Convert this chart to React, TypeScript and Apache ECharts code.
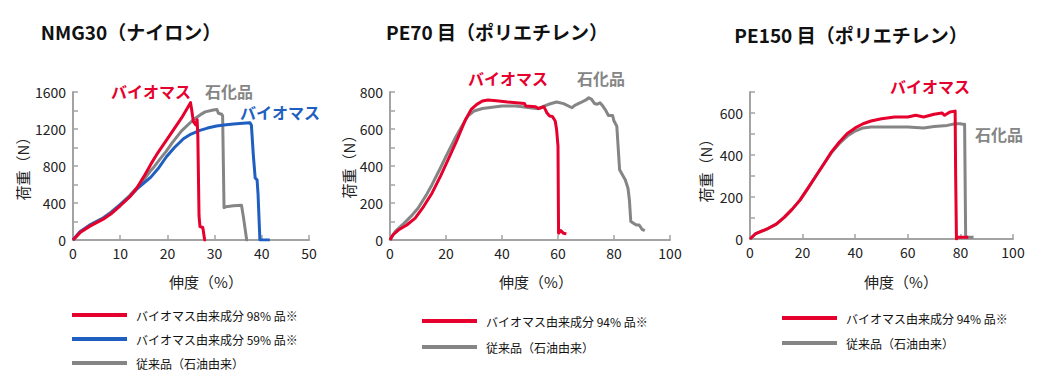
import React, { useEffect, useRef } from "react";
import * as echarts from "echarts";

const FONT = '"Noto Sans CJK JP", "Noto Sans", sans-serif';
const RED = "#e6002d";
const BLUE = "#1f5fbf";
const GRAY = "#858585";
const AXIS = "#a3a3a3";

// Panel 1: NMG30 (nylon)  [elongation %, load N]
const p1Bio98: number[][] = [
  [0, 0], [1.5, 80], [3.6, 150], [6.4, 225], [8, 280], [10, 370], [12, 465], [13.5, 560],
  [15, 685], [16.5, 820], [18, 945], [20.6, 1140], [23, 1320], [24.9, 1485], [25.2, 1390],
  [25.5, 1280], [26.0, 1245], [26.3, 1300], [26.45, 1120], [26.7, 260], [26.9, 145],
  [27.5, 135], [27.9, 0], [28.2, 0],
];
const p1Bio59: number[][] = [
  [0, 0], [1.5, 90], [3.6, 160], [6.4, 235], [8, 290], [10, 380], [12, 470], [13.5, 550],
  [15, 615], [16.5, 680], [18, 770], [19.8, 900], [21.5, 1000], [23.4, 1095], [25, 1145],
  [26.9, 1185], [28.5, 1210], [30.4, 1232], [32, 1243], [34, 1254], [36, 1262], [37.5, 1268],
  [37.8, 1240], [38.2, 920], [38.6, 670], [39.0, 650], [39.2, 500], [39.6, 0], [41.7, 0],
];
const p1Petro: number[][] = [
  [0, 0], [1.5, 90], [3.6, 165], [6.4, 240], [8, 300], [10, 385], [12, 480], [13.5, 565],
  [15, 650], [16.3, 740], [17, 780], [18.5, 880], [19.7, 955], [21, 1050], [23, 1180],
  [25.5, 1300], [27, 1355], [28, 1385], [29.7, 1405], [30.5, 1410], [30.8, 1370], [31.5, 1360],
  [31.7, 1340], [32, 350], [32.4, 360], [34, 370], [35.7, 375], [36.1, 250], [36.8, 0], [37.1, 0],
];

// Panel 2: PE70 mesh (polyethylene)
const p2Bio94: number[][] = [
  [0, 0], [1, 27], [3, 54], [6, 81], [9, 118], [12, 181], [15, 253], [18, 344], [21, 443],
  [24, 543], [27, 652], [29, 706], [31, 733], [33, 751], [35, 757], [38, 753], [42, 746],
  [45, 742], [48, 738], [48.5, 724], [52, 720], [53, 711], [55, 720], [56, 688], [57, 670],
  [58, 668], [59, 643], [59.5, 597], [60, 507], [60.2, 36], [61, 51], [62, 36], [63, 33],
];
const p2Petro: number[][] = [
  [0, 0], [1.8, 45], [5, 90], [8, 136], [10, 172], [13, 244], [15, 299], [18, 389], [20, 452],
  [23, 543], [26, 624], [28, 673], [30, 697], [33, 711], [40, 724], [45, 724], [50, 715],
  [53, 710], [55, 724], [57, 735], [59.5, 746], [62, 737], [65, 715], [66, 728], [68, 742],
  [70, 757], [71, 769], [72, 760], [73, 738], [74, 734], [75, 742], [76, 724], [77, 702],
  [78, 673], [79.5, 673], [80, 643], [81, 615], [82, 380], [83, 353], [84, 326], [85, 280],
  [85.5, 217], [86, 100], [87, 90], [88, 81], [89, 81], [90, 58], [91, 51],
];

// Panel 3: PE150 mesh (polyethylene)
const p3Bio94: number[][] = [
  [0, 0], [2, 24], [4, 35], [7, 51], [10, 71], [13, 103], [16, 141], [19, 185], [22, 241],
  [25, 299], [28, 356], [31, 415], [34, 462], [37, 502], [40, 529], [43, 549], [46, 562],
  [50, 573], [55, 581], [60, 581], [63, 589], [66, 581], [70, 594], [73, 600], [74, 589],
  [76, 605], [78, 609], [78.2, 300], [78.5, 0], [79, 8], [83, 8],
];
const p3Petro: number[][] = [
  [0, 0], [2, 24], [4, 35], [7, 51], [10, 71], [13, 103], [16, 141], [19, 185], [22, 241],
  [25, 299], [28, 356], [31, 412], [34, 455], [37, 490], [40, 514], [43, 529], [46, 533],
  [50, 533], [60, 533], [66, 529], [70, 536], [75, 541], [78, 549], [80, 549], [81, 546],
  [81.6, 546], [82, 10], [85, 8],
];

const titles = ["NMG30（ナイロン）", "PE70 目（ポリエチレン）", "PE150 目（ポリエチレン）"];
const xName = "伸度（%）";
const yName = "荷重（N）";
const xMax = [50, 100, 100];
const xStep = [10, 20, 20];
const yMax = [1600, 800, 700];
const yStep = [200, 100, 100];
const yLabelStep = [400, 200, 200];

const nameBio98 = "バイオマス由来成分 98% 品※";
const nameBio59 = "バイオマス由来成分 59% 品※";
const nameBio94 = "バイオマス由来成分 94% 品※";
const namePetro = "従来品（石油由来）";

const grids = [
  { left: 73, top: 92, width: 236, height: 148 },
  { left: 390, top: 92, width: 280, height: 148 },
  { left: 750, top: 92, width: 263, height: 147 },
];

function buildOption() {
  const xAxis = grids.map((_, i) => ({
    type: "value",
    gridIndex: i,
    min: 0,
    max: xMax[i],
    interval: xStep[i],
    axisLine: { show: true, lineStyle: { color: AXIS, width: 2 } },
    axisTick: { show: true, inside: true, length: 5, lineStyle: { color: AXIS, width: 1.5 } },
    axisLabel: { color: "#222", fontSize: 14, fontFamily: FONT, margin: 6 },
    splitLine: { show: false },
  }));
  const yAxis = grids.map((_, i) => ({
    type: "value",
    gridIndex: i,
    min: 0,
    max: yMax[i],
    interval: yStep[i],
    axisLine: { show: true, lineStyle: { color: AXIS, width: 2 } },
    axisTick: { show: true, inside: true, length: 5, lineStyle: { color: AXIS, width: 1.5 } },
    axisLabel: {
      color: "#222",
      fontSize: 14,
      fontFamily: FONT,
      margin: 7,
      formatter: (v: number) => (v % yLabelStep[i] === 0 ? String(v) : ""),
    },
    splitLine: { show: false },
  }));

  const line = (name: string, data: number[][], color: string, idx: number) => ({
    type: "line",
    name,
    data,
    xAxisIndex: idx,
    yAxisIndex: idx,
    showSymbol: false,
    symbol: "none",
    lineStyle: { color, width: 3, join: "round" },
    itemStyle: { color },
    silent: true,
  });

  const series = [
    line(namePetro, p1Petro, GRAY, 0),
    line(nameBio59, p1Bio59, BLUE, 0),
    line(nameBio98, p1Bio98, RED, 0),
    line(namePetro, p2Petro, GRAY, 1),
    line(nameBio94, p2Bio94, RED, 1),
    line(namePetro, p3Petro, GRAY, 2),
    line(nameBio94, p3Bio94, RED, 2),
  ];

  const legendBase = {
    orient: "vertical",
    icon: "rect",
    itemWidth: 55,
    itemHeight: 4,
    selectedMode: false,
    textStyle: { fontSize: 12, fontFamily: FONT, color: "#111", lineHeight: 16, padding: [0, 0, 0, 4] },
  };
  const legend = [
    { ...legendBase, left: 67, top: 302, itemGap: 8, data: [nameBio98, nameBio59, namePetro] },
    { ...legendBase, left: 417, top: 308, itemGap: 10, data: [nameBio94, namePetro] },
    { ...legendBase, left: 777, top: 305, itemGap: 9, data: [nameBio94, namePetro] },
  ];

  const txt = (x: number, y: number, text: string, opts: any = {}) => ({
    type: "text",
    x,
    y,
    rotation: opts.rotation || 0,
    silent: true,
    style: {
      text,
      fill: opts.fill || "#222",
      font: `${opts.weight || "normal"} ${opts.size || 15}px ${FONT}`,
      textAlign: opts.align || "center",
      textVerticalAlign: "middle",
    },
  });

  const titleX = [131, 497, 851];
  const titleY = [31, 31, 34];
  const xNameX = [206, 536, 901];
  const yNameX = [22, 348, 705];
  const yNameY = [165, 163, 167];

  const graphic: any[] = [];
  for (let i = 0; i < 3; i++) {
    graphic.push(txt(titleX[i], titleY[i], titles[i], { weight: "bold", size: 19, fill: "#111" }));
    graphic.push(txt(xNameX[i], 281, xName, { size: 15 }));
    graphic.push(txt(yNameX[i], yNameY[i], yName, { size: 15, rotation: Math.PI / 2 }));
  }
  // inline series labels
  graphic.push(txt(111, 91, "バイオマス", { weight: "bold", size: 16, fill: RED, align: "left" }));
  graphic.push(txt(205, 91, "石化品", { weight: "bold", size: 16, fill: GRAY, align: "left" }));
  graphic.push(txt(240, 112, "バイオマス", { weight: "bold", size: 16, fill: BLUE, align: "left" }));
  graphic.push(txt(468, 78, "バイオマス", { weight: "bold", size: 16, fill: RED, align: "left" }));
  graphic.push(txt(577, 78, "石化品", { weight: "bold", size: 16, fill: GRAY, align: "left" }));
  graphic.push(txt(890, 86, "バイオマス", { weight: "bold", size: 16, fill: RED, align: "left" }));
  graphic.push(txt(975, 134, "石化品", { weight: "bold", size: 16, fill: GRAY, align: "left" }));

  return {
    animation: false,
    backgroundColor: "#ffffff",
    grid: grids.map((g) => ({ ...g, containLabel: false })),
    xAxis,
    yAxis,
    series,
    legend,
    graphic,
  };
}

export default function App() {
  const ref = useRef<HTMLDivElement>(null);
  useEffect(() => {
    if (!ref.current) return;
    const chart = echarts.init(ref.current, undefined, { renderer: "svg" });
    chart.setOption(buildOption() as any);
    return () => chart.dispose();
  }, []);
  return (
    <div
      ref={ref}
      style={{ position: "fixed", left: 0, top: 0, width: 1040, height: 387, background: "#fff" }}
    />
  );
}
